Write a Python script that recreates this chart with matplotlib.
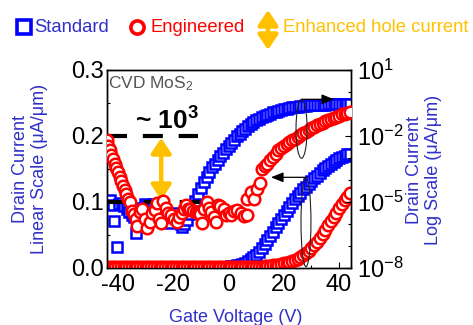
import numpy as np
import matplotlib
matplotlib.use('Agg')
import matplotlib.pyplot as plt
from matplotlib.patches import Ellipse, FancyArrowPatch
from matplotlib.lines import Line2D
from matplotlib.ticker import FixedLocator, NullFormatter, MultipleLocator

plt.rcParams['font.family'] = ['Liberation Sans', 'DejaVu Sans']
plt.rcParams['mathtext.fontset'] = 'custom'
plt.rcParams['mathtext.rm'] = 'Liberation Sans'
plt.rcParams['mathtext.it'] = 'Liberation Sans:italic'
plt.rcParams['mathtext.bf'] = 'Liberation Sans:bold'
plt.rcParams['mathtext.default'] = 'regular'
plt.rcParams['axes.unicode_minus'] = False

# ---------------- data ----------------
# gate-voltage sweep for the linear-scale curves (V)
vg_lin = np.arange(-44, 45)

# linear-scale drain current (uA/um)
std_lin = [0.001, 0.001, 0.001, 0.001, 0.001, 0.001, 0.001, 0.001, 0.001, 0.001,
           0.001, 0.001, 0.001, 0.001, 0.001, 0.001, 0.001, 0.001, 0.001, 0.001,
           0.001, 0.001, 0.001, 0.001, 0.001, 0.001, 0.001, 0.001, 0.001, 0.001,
           0.001, 0.001, 0.001, 0.001, 0.001, 0.001, 0.001, 0.001, 0.001, 0.001,
           0.001, 0.001, 0.001, 0.001,
           0.002, 0.0025, 0.003, 0.004, 0.005, 0.0065, 0.008, 0.010, 0.013, 0.016,
           0.020, 0.025, 0.030, 0.036, 0.042, 0.048, 0.055, 0.062, 0.068, 0.074,
           0.080, 0.086, 0.092, 0.098, 0.104, 0.109, 0.114, 0.119, 0.123, 0.128,
           0.132, 0.136, 0.140, 0.144, 0.148, 0.152, 0.155, 0.158, 0.161, 0.164,
           0.166, 0.168, 0.170, 0.172, 0.173]
eng_lin = [0.0015, 0.0015, 0.0015, 0.0015, 0.0015, 0.0015, 0.0015, 0.0015, 0.0015, 0.0015,
           0.0015, 0.0015, 0.0015, 0.0015, 0.0015, 0.0015, 0.0015, 0.0015, 0.0015, 0.0015,
           0.0015, 0.0015, 0.0015, 0.0015, 0.0015, 0.0015, 0.0015, 0.0015, 0.0015, 0.0015,
           0.0015, 0.0015, 0.0015, 0.0015, 0.0015, 0.0015, 0.0015, 0.0015, 0.0015, 0.0015,
           0.0015, 0.0015, 0.0015, 0.0015, 0.0015, 0.0015, 0.0015, 0.0015, 0.0015, 0.0015,
           0.0015, 0.0015, 0.0015, 0.0015, 0.0015, 0.0015,
           0.002, 0.0025, 0.003, 0.0035, 0.004, 0.0045, 0.005, 0.006, 0.007, 0.008,
           0.009, 0.0105, 0.012, 0.014, 0.016, 0.019, 0.022, 0.026, 0.030, 0.035,
           0.040, 0.046, 0.052, 0.058, 0.065, 0.071, 0.078, 0.084, 0.091, 0.097,
           0.103, 0.108, 0.113]

# log-scale drain current, given as log10 (uA/um)
std_log_v = [-44, -43, -42, -41.5, -40.5, -39.6, -38.6, -37.8, -36.8, -36, -35, -34.4,
             -33.4, -32.4, -31.4, -30.4, -29.4, -28.4, -27.4, -26.4, -25.4, -24.4,
             -23.4, -22.4, -21.4, -20.4, -19.4, -18.4, -17.4, -16.8,
             -16, -15, -14, -13, -12, -11, -10, -9, -8, -7, -6, -5, -4, -3, -2, -1,
             0, 1, 2, 3, 4, 5, 6, 7, 8, 9, 10, 11, 12, 13, 14, 15, 16, 17, 18, 19,
             20, 21, 22, 23, 24, 25, 26, 27, 28, 29, 30, 31, 32, 33, 34, 35, 36, 37,
             38, 39, 40, 41, 42, 43, 44]
std_log_exp = [-4.95, -4.9, -5.15, -5.85, -7.05, -5.1, -5.05, -5.2, -5.3, -5.45, -5.6, -5.7,
               -6.4, -5.4, -5.25, -5.1, -5.2, -5.3, -5.1, -5.2, -5.3, -5.5,
               -5.9, -5.6, -5.95, -5.7, -5.5, -5.75, -6.0, -6.15,
               -6.0, -5.8, -5.55, -5.25, -4.95, -4.65, -4.35, -4.1, -3.85, -3.62, -3.42,
               -3.25, -3.08, -2.92, -2.76, -2.6,
               -2.45, -2.3, -2.16, -2.02, -1.89, -1.77, -1.66, -1.55, -1.46, -1.37,
               -1.29, -1.22, -1.15, -1.09, -1.03, -0.98, -0.93, -0.89, -0.85, -0.81,
               -0.78, -0.75, -0.72, -0.7, -0.68, -0.66, -0.65, -0.63, -0.62, -0.61,
               -0.6, -0.59, -0.58, -0.58, -0.57, -0.57, -0.56, -0.56, -0.56, -0.55,
               -0.55, -0.55, -0.55, -0.54, -0.54]

eng_log_v = [-44.2, -43.6, -43, -42.4, -41.8, -41.2, -40.6, -40, -39.4, -38.8, -38.2,
             -37.6, -37, -36.4, -35.6, -35, -34.2, -33.4, -33, -32.2, -31.4, -30.4,
             -29.4, -28.4, -27.6, -26.8, -25.8, -25.2, -24.4, -23.8, -22.8, -21.8,
             -20.8, -19.8, -18.8, -17.8, -17, -16.2, -15.4, -14.6, -13.8, -12.8,
             -11.8, -11, -10.2, -9.6, -8.8, -7.8, -7, -6.2, -5.3, -4.6, -4, -3,
             -1.8, -1, 0, 0.8, 2, 3.2, 4.4, 5.6, 6.8, 6.8, 8, 9.2, 10.4, 11.4,
             12, 13, 14, 15, 16, 17, 18, 19, 20, 21, 22, 23, 24, 25, 26, 27, 28,
             29, 30, 31, 32, 33, 34, 35, 36, 37, 38, 39, 40, 41, 42, 43, 44]
eng_log_exp = [-2.2, -2.45, -2.65, -2.85, -3.05, -3.25, -3.45, -3.65, -3.85, -4.05, -4.25,
               -4.45, -4.65, -4.85, -5.0, -5.4, -5.55, -5.75, -6.1, -5.45, -5.3, -5.75,
               -6.2, -5.9, -5.5, -5.35, -5.05, -5.75, -5.95, -4.95, -5.25, -5.5,
               -5.6, -5.75, -5.9, -5.7, -5.5, -5.3, -5.15, -5.3, -5.3, -5.4,
               -5.45, -5.5, -5.55, -5.95, -5.3, -5.0, -5.25, -5.45, -5.7, -5.9, -5.15, -5.2,
               -5.3, -5.6, -5.5, -5.6, -5.4, -5.35, -5.5, -5.65, -5.6, -4.85, -4.55, -4.85,
               -4.4, -4.15,
               -3.5, -3.38, -3.26, -3.1, -2.95, -2.8, -2.65, -2.55, -2.45, -2.36, -2.28,
               -2.2, -2.12, -2.04, -1.96, -1.88, -1.8, -1.72, -1.65, -1.58, -1.51, -1.45,
               -1.39, -1.33, -1.27, -1.22, -1.17, -1.12, -1.07, -1.02, -0.98, -0.94, -0.9]

x_ticks = [-40, -20, 0, 20, 40]
lin_ticks = [0.0, 0.1, 0.2, 0.3]
lin_tick_labels = ['0.0', '0.1', '0.2', '0.3']
log_ticks = [1e-8, 1e-5, 1e-2, 1e1]
log_tick_labels = [r'$10^{-8}$', r'$10^{-5}$', r'$10^{-2}$', r'$10^{1}$']

# ---------------- style ----------------
BLUE = '#0000FF'
RED = '#FF0000'
ORANGE = '#FFC000'
LBLUE = '#3030C8'
W, H = 473, 325

fig = plt.figure(figsize=(W / 100, H / 100), dpi=100)
ax = fig.add_axes([106.5 / W, 1 - 268 / H, (351 - 106.5) / W, (268 - 70) / H])
ax2 = ax.twinx()

sq = dict(marker='s', ms=7.5, mfc='white', mec=BLUE, mew=1.8, ls='none')
ci = dict(marker='o', ms=8.3, mfc='white', mec=RED, mew=1.8, ls='none')

# linear-scale curves
ax.plot(vg_lin, std_lin, zorder=2, **sq)
ax.plot(vg_lin, eng_lin, zorder=3, **ci)

# log-scale curves
ax2.plot(std_log_v, 10.0 ** np.array(std_log_exp), zorder=2, **sq)
ax2.annotate('', xy=(-24.4, 0.197), xytext=(-24.4, 0.103), xycoords=ax.transData,
             textcoords=ax.transData, zorder=2.4,
             arrowprops=dict(arrowstyle='<|-|>,head_width=0.3,head_length=0.45',
                             color=ORANGE, lw=3.2, mutation_scale=20, shrinkA=0, shrinkB=0))
ax2.plot([-44, -11], [0.2, 0.2], color='black', lw=3, dashes=(4.8, 3.8),
         transform=ax.transData, zorder=2.5, dash_capstyle='butt')
ax2.plot([-43.6, -10.2], [0.1, 0.1], color='black', lw=3, dashes=(4.8, 3.8),
         transform=ax.transData, zorder=2.5, dash_capstyle='butt')
ax2.plot(eng_log_v, 10.0 ** np.array(eng_log_exp), zorder=3, **ci)

ax.set_xlim(-44.2, 44.3)
ax.set_ylim(0, 0.3)
ax2.set_yscale('log')
ax2.set_ylim(1e-8, 1e1)

ax.set_xticks(x_ticks)
ax.set_xticklabels([str(t) for t in x_ticks])
ax.xaxis.set_minor_locator(MultipleLocator(10))
ax.set_yticks(lin_ticks)
ax.set_yticklabels(lin_tick_labels)
ax.yaxis.set_minor_locator(MultipleLocator(0.05))
ax2.yaxis.set_major_locator(FixedLocator(log_ticks))
ax2.set_yticklabels(log_tick_labels)
ax2.yaxis.set_minor_locator(FixedLocator([10.0 ** k for k in range(-8, 2)]))
ax2.yaxis.set_minor_formatter(NullFormatter())

ax.tick_params(which='both', direction='in', labelsize=17, width=0.8)
ax.tick_params(which='major', length=4)
ax.tick_params(which='minor', length=2.5)
ax.tick_params(axis='y', pad=2)
ax.tick_params(axis='x', pad=4)
ax2.tick_params(which='both', direction='in', labelsize=17, width=0.8, pad=4)
ax2.tick_params(which='major', length=4)
ax2.tick_params(which='minor', length=2.5)
for a in (ax, ax2):
    for s in a.spines.values():
        s.set_linewidth(1.0)

# annotations
ax2.text(-22.4, 0.209, r'~ 10$^{\mathbf{3}}$', transform=ax.transData, ha='center',
         va='baseline', fontsize=19, fontweight='bold', color='black', zorder=5)
ax2.text(-43.6, 0.2727, r'CVD MoS$_2$', transform=ax.transData, ha='left',
         va='baseline', fontsize=12.5, color='#555555', zorder=5)

e1 = Ellipse((26.4, 0.211), 4.0, 0.0894, transform=ax.transData, fill=False,
             edgecolor='#222222', lw=0.8, zorder=4)
e2 = Ellipse((28.0, 0.0697), 3.6, 0.1355, transform=ax.transData, fill=False,
             edgecolor='#222222', lw=0.8, zorder=4)
ax2.add_patch(e1)
ax2.add_patch(e2)
ax2.annotate('', xy=(38.2, 0.2556), xytext=(26.6, 0.2556), xycoords=ax.transData,
             textcoords=ax.transData, zorder=4,
             arrowprops=dict(arrowstyle='-|>,head_width=0.3,head_length=0.75',
                             color='black', lw=0.9, mutation_scale=10, shrinkA=0, shrinkB=0))
ax2.annotate('', xy=(15.3, 0.1374), xytext=(28.0, 0.1374), xycoords=ax.transData,
             textcoords=ax.transData, zorder=4,
             arrowprops=dict(arrowstyle='-|>,head_width=0.3,head_length=0.75',
                             color='black', lw=0.9, mutation_scale=10, shrinkA=0, shrinkB=0))

# axis labels
fig.text(30 / W, 1 - 169 / H, 'Drain Current\nLinear Scale (\u03bcA/\u03bcm)', rotation=90,
         ha='center', va='center', multialignment='center', fontsize=13, color=LBLUE)
fig.text(424 / W, 1 - 170 / H, 'Drain Current\nLog Scale (\u03bcA/\u03bcm)', rotation=90,
         ha='center', va='center', multialignment='center', fontsize=13, color=LBLUE)
fig.text(235.5 / W, 1 - 317 / H, 'Gate Voltage (V)', ha='center', va='center',
         fontsize=13, color=LBLUE)

# legend row
ly = 1 - 27 / H
fig.add_artist(Line2D([24 / W], [ly], marker='s', ms=10, mfc='white', mec=BLUE, mew=2.6,
                      transform=fig.transFigure))
fig.text(34 / W, ly, 'Standard', ha='left', va='center', fontsize=13.3, color=LBLUE)
fig.add_artist(Line2D([136.5 / W], [ly], marker='o', ms=9.5, mfc='white', mec=RED, mew=2.6,
                      transform=fig.transFigure))
fig.text(150 / W, ly, 'Engineered', ha='left', va='center', fontsize=13.3, color=RED)
fig.add_artist(FancyArrowPatch((268 / W, 1 - 50 / H), (268 / W, 1 - 10 / H),
                               transform=fig.transFigure,
                               arrowstyle='<|-|>,head_width=0.3,head_length=0.45',
                               mutation_scale=20, color=ORANGE, lw=3.2,
                               shrinkA=0, shrinkB=0))
fig.text(283 / W, ly, 'Enhanced hole current', ha='left', va='center', fontsize=13.3,
         color=ORANGE)

fig.savefig('out.png', dpi=100)
